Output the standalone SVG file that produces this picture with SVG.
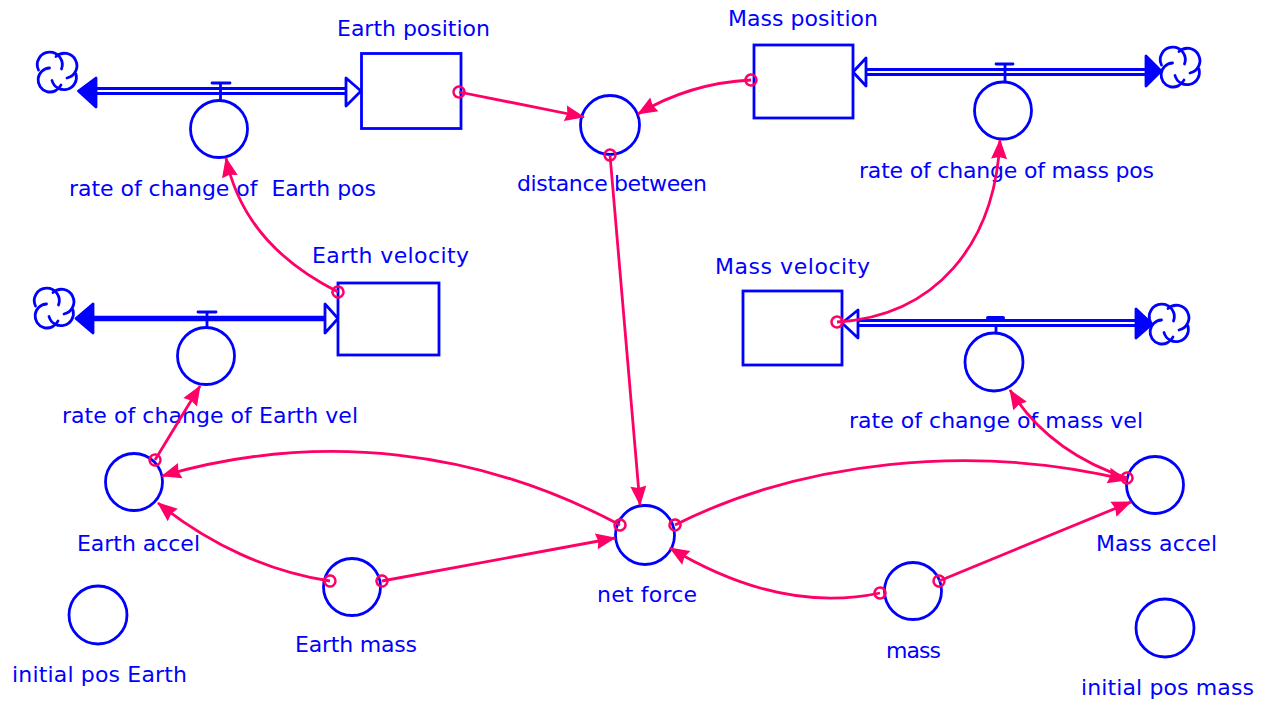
<svg xmlns="http://www.w3.org/2000/svg" width="1265" height="701" viewBox="0 0 1265 701">
<style>
text{font-family:"DejaVu Sans",Verdana,sans-serif;font-size:22px;fill:#0000ff;white-space:pre}
.s{fill:#fff;stroke:#0000ff;stroke-width:2.8}
.c{fill:none;stroke:#0000ff;stroke-width:2.8;stroke-linecap:round}
.fh{fill:#0000ff;stroke:#0000ff;stroke-width:2.8;stroke-linejoin:round}
.hh{fill:#fff;stroke:#0000ff;stroke-width:2.8;stroke-linejoin:round}
.l{fill:none;stroke:#ff0066;stroke-width:2.8;marker-start:url(#o);marker-end:url(#a)}
</style>
<defs>
<marker id="a" markerUnits="userSpaceOnUse" markerWidth="22" markerHeight="18" refX="19" refY="8.500" orient="auto" overflow="visible"><path d="M0 0.500L20 8.500L0 16.500L2 8.500Z" fill="#ff0066"/></marker>
<marker id="o" markerUnits="userSpaceOnUse" markerWidth="16" markerHeight="16" refX="8" refY="8" orient="auto" overflow="visible"><circle cx="8" cy="8" r="5.500" fill="none" stroke="#ff0066" stroke-width="2.500"/></marker>
<g id="cloud" class="c"><path d="M1.500 17A12.500 12.500 0 1 1 24.500 16"/><path d="M19 3.500A12.500 12.500 0 1 1 30 25"/><path d="M39 21A12 12 0 0 1 15 27.500"/><path d="M12.500 15A12 12 0 1 0 24 32"/></g>
</defs>
<g id="flow-earth-pos">
<path class="c" d="M96 88.500H347M96 93.500H347M220.500 83V100M212 83H230"/>
<path class="fh" d="M78.500 91L96 78V107Z"/><path class="hh" d="M361 91L346 78V106Z"/>
<use href="#cloud" x="37" y="53"/>
</g>
<g id="flow-mass-pos">
<path class="c" d="M866 69.500H1146M866 74.500H1146M1005 64V82M996 64H1013"/>
<path class="hh" d="M853 72L866 58V86Z"/><path class="fh" d="M1161 71L1146 56V86Z"/>
<use href="#cloud" x="1160" y="48"/>
</g>
<g id="flow-earth-vel">
<path class="c" d="M93 318.500H325" style="stroke-width:5.500"/><path class="c" d="M207 312V327M198 312H216"/>
<path class="fh" d="M76 318.500L93 304V333Z"/><path class="hh" d="M338 318.500L325 304V333Z"/>
<use href="#cloud" x="34" y="289"/>
</g>
<g id="flow-mass-vel">
<path class="c" d="M858 320.500H1136M858 325.500H1136M996 326V333"/><path class="c" d="M988 318H1003" style="stroke-width:4"/>
<path class="hh" d="M842 323L858 310V338Z"/><path class="fh" d="M1152 324L1136 309V338Z"/>
<use href="#cloud" x="1149" y="305"/>
</g>
<g id="earth-position"><rect class="s" x="361.500" y="53.500" width="99.500" height="75"/><text x="337" y="36" textLength="153">Earth position</text></g>
<g id="mass-position"><rect class="s" x="754" y="45" width="99" height="73"/><text x="728" y="26" textLength="150">Mass position</text></g>
<g id="earth-velocity"><rect class="s" x="338" y="283" width="101" height="72"/><text x="312" y="263" textLength="157">Earth velocity</text></g>
<g id="mass-velocity"><rect class="s" x="743" y="291" width="99" height="74"/><text x="715" y="274" textLength="155">Mass velocity</text></g>
<g id="rate-earth-pos"><circle class="s" cx="219" cy="129" r="28.500"/><text x="69" y="196" textLength="307">rate of change of  Earth pos</text></g>
<g id="distance-between"><circle class="s" cx="610" cy="125" r="29.500"/><text x="517" y="191" textLength="190">distance between</text></g>
<g id="rate-mass-pos"><circle class="s" cx="1003" cy="110.500" r="28.500"/><text x="859" y="178" textLength="295">rate of change of mass pos</text></g>
<g id="rate-earth-vel"><circle class="s" cx="206" cy="356" r="28.500"/><text x="62" y="423" textLength="296">rate of change of Earth vel</text></g>
<g id="rate-mass-vel"><circle class="s" cx="994" cy="362" r="29"/><text x="849" y="428" textLength="294">rate of change of mass vel</text></g>
<g id="earth-accel"><circle class="s" cx="134" cy="482" r="28.500"/><text x="77" y="551" textLength="123">Earth accel</text></g>
<g id="net-force"><circle class="s" cx="645" cy="535" r="29.500"/><text x="597" y="602" textLength="100">net force</text></g>
<g id="mass-accel"><circle class="s" cx="1155" cy="485" r="28.500"/><text x="1096" y="551" textLength="121">Mass accel</text></g>
<g id="earth-mass"><circle class="s" cx="352" cy="587" r="28.500"/><text x="295" y="652" textLength="122">Earth mass</text></g>
<g id="mass"><circle class="s" cx="913" cy="591" r="28.500"/><text x="886" y="658" textLength="55">mass</text></g>
<g id="initial-pos-earth"><circle class="s" cx="98" cy="615" r="29"/><text x="12" y="682" textLength="175">initial pos Earth</text></g>
<g id="initial-pos-mass"><circle class="s" cx="1165" cy="628" r="29"/><text x="1081" y="695" textLength="173">initial pos mass</text></g>
<g id="connectors">
<path class="l" d="M459 92L584 117"/>
<path class="l" d="M751 80Q690 83 638 114"/>
<path class="l" d="M610 155L640 505"/>
<path class="l" d="M338 292C285 265 240 225 226 158"/>
<path class="l" d="M837 322C935 316 995 245 1000 140"/>
<path class="l" d="M155 460L200 386"/>
<path class="l" d="M1127 478C1072 460 1035 430 1010 390"/>
<path class="l" d="M620 525C480 450 320 430 162 476"/>
<path class="l" d="M675 525C800 462 970 442 1127 480"/>
<path class="l" d="M330 581C270 572 210 545 158 503"/>
<path class="l" d="M382 581L615 538"/>
<path class="l" d="M880 593C810 608 740 590 670 548"/>
<path class="l" d="M939 581L1131 502"/>
</g>
</svg>
